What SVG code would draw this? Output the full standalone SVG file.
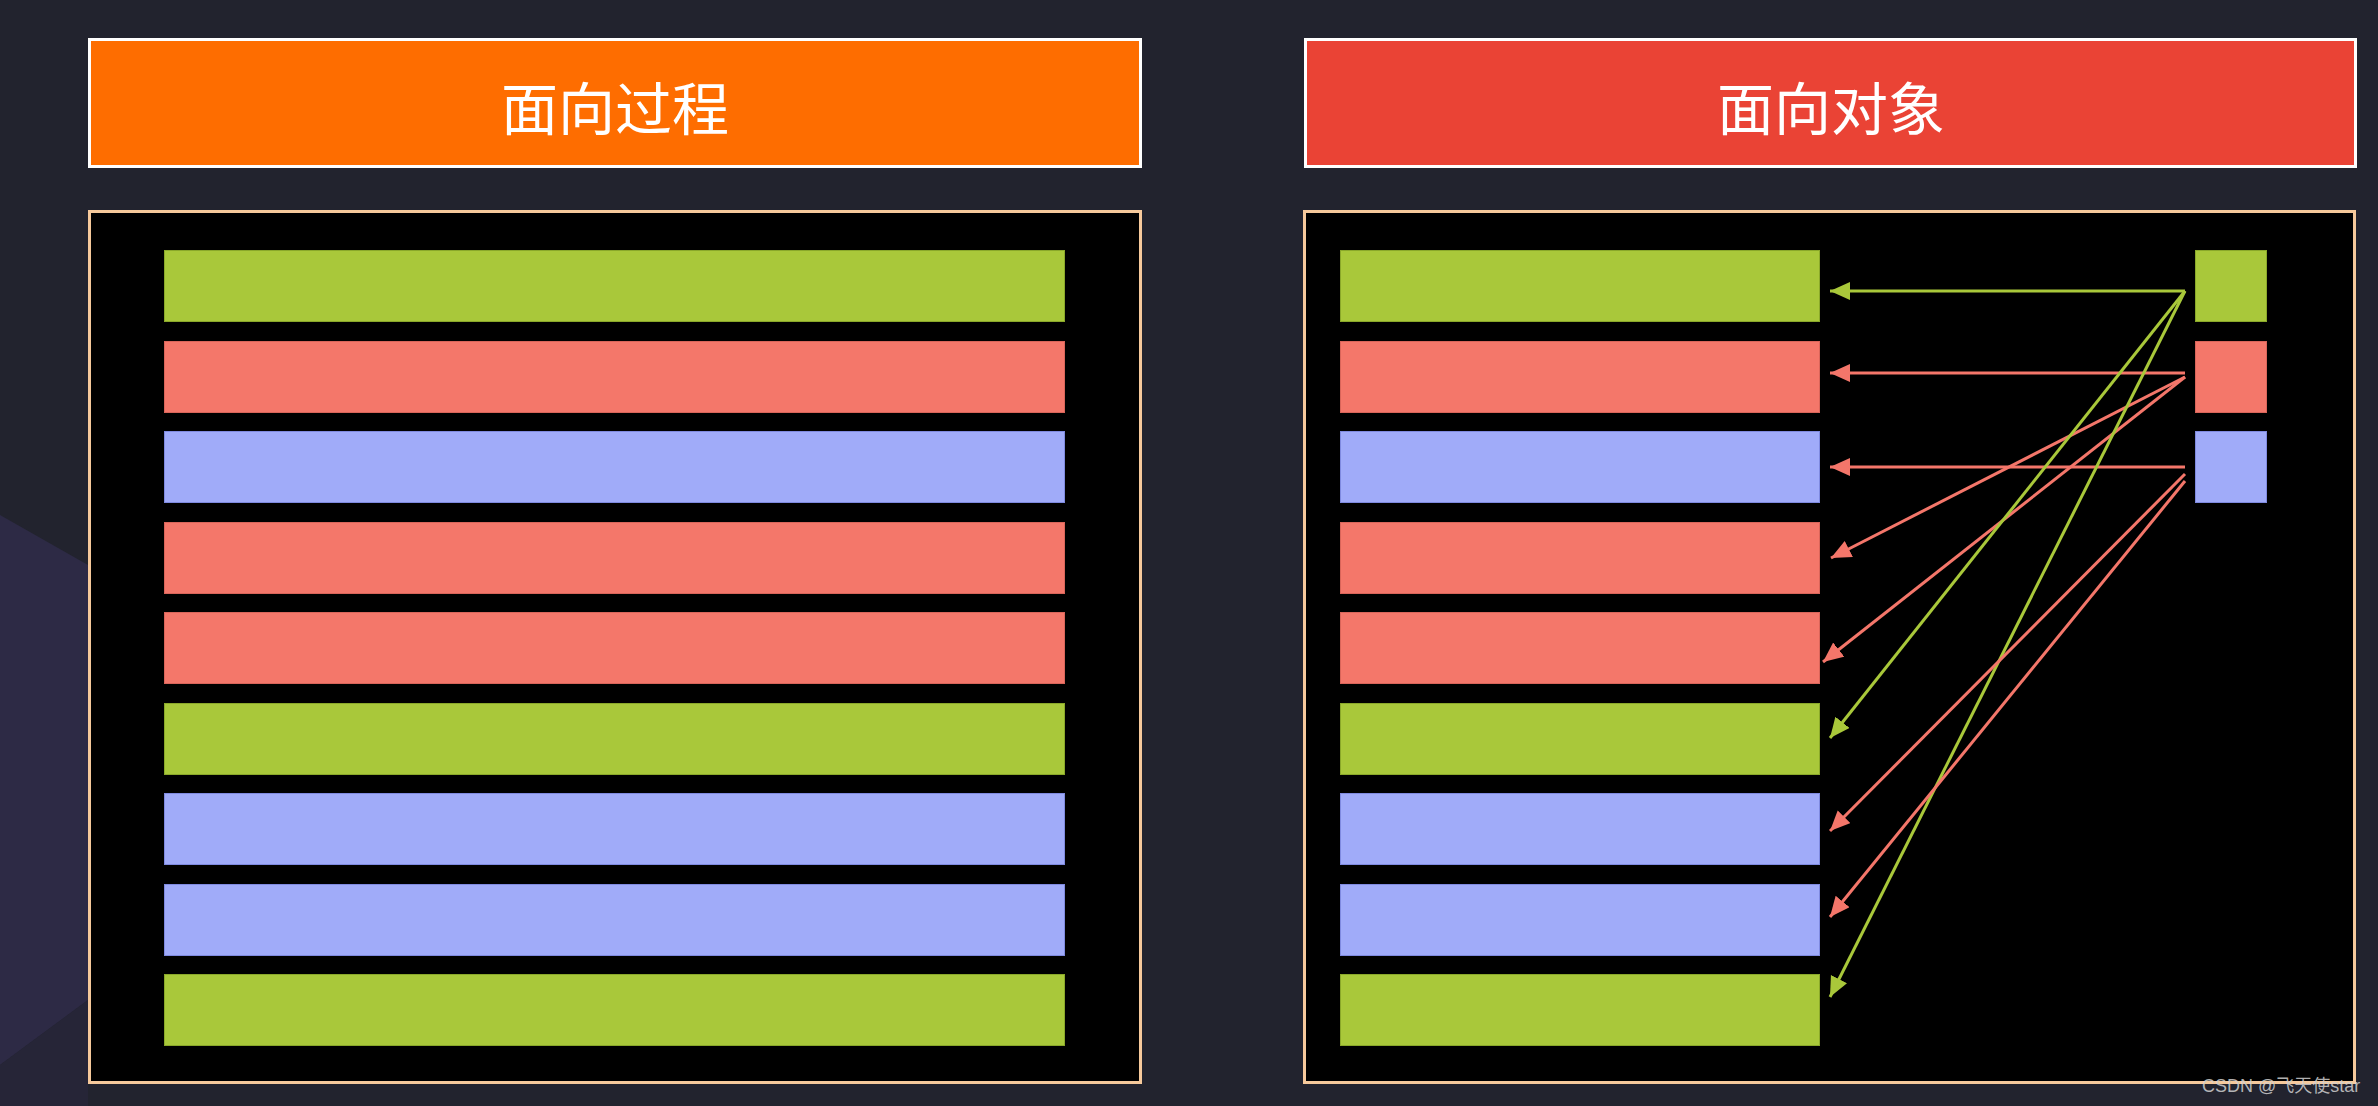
<svg xmlns="http://www.w3.org/2000/svg" width="2378" height="1106" viewBox="0 0 2378 1106">
<style>
.hdr{stroke:#ffffff;stroke-width:3}
.title{font-family:"Noto Sans CJK SC","Noto Sans",sans-serif;font-size:57px;fill:#ffffff;text-anchor:middle;dominant-baseline:central}
.panel{fill:#000000;stroke:#f6c99b;stroke-width:3}
.g{fill:#a9c83a;stroke:#8aa82a;stroke-width:1}
.r{fill:#f4776a;stroke:#d9655a;stroke-width:1}
.b{fill:#a0abf9;stroke:#7f8ae0;stroke-width:1}
.lg{stroke:#a9c83a;stroke-width:3;fill:none;marker-end:url(#ag)}
.lr{stroke:#f4766a;stroke-width:3;fill:none;marker-end:url(#ar)}
.wm{font-family:"Liberation Sans","Noto Sans CJK SC",sans-serif;font-size:18px;fill:#d0d0d0;fill-opacity:0.85}
</style>
<defs>
<marker id="ag" markerUnits="userSpaceOnUse" markerWidth="22" markerHeight="20" refX="20" refY="9" orient="auto">
<path d="M0,0 L20,9 L0,18 z" fill="#a9c83a"/>
</marker>
<marker id="ar" markerUnits="userSpaceOnUse" markerWidth="22" markerHeight="20" refX="20" refY="9" orient="auto">
<path d="M0,0 L20,9 L0,18 z" fill="#f4766a"/>
</marker>
</defs>
<rect width="2378" height="1106" fill="#22232e"/>
<polygon points="0,515 88,565 88,1000 0,1065" fill="#2d2a45"/>
<polygon points="0,1065 88,1000 88,1106 0,1106" fill="#262537"/>

<g id="header-left">
<rect class="hdr" x="89.5" y="39.5" width="1051" height="127" fill="#fe6d00"/>
<text class="title" x="615" y="105">面向过程</text>
</g>
<g id="header-right">
<rect class="hdr" x="1305.5" y="39.5" width="1050" height="127" fill="#ea4335"/>
<text class="title" x="1831" y="105">面向对象</text>
</g>

<g id="panel-left">
<rect class="panel" x="89.5" y="211.5" width="1051" height="871"/>
<rect class="g" x="164.5" y="250.5" width="900" height="71"/>
<rect class="r" x="164.5" y="341.5" width="900" height="71"/>
<rect class="b" x="164.5" y="431.5" width="900" height="71"/>
<rect class="r" x="164.5" y="522.5" width="900" height="71"/>
<rect class="r" x="164.5" y="612.5" width="900" height="71"/>
<rect class="g" x="164.5" y="703.5" width="900" height="71"/>
<rect class="b" x="164.5" y="793.5" width="900" height="71"/>
<rect class="b" x="164.5" y="884.5" width="900" height="71"/>
<rect class="g" x="164.5" y="974.5" width="900" height="71"/>
</g>

<g id="panel-right">
<rect class="panel" x="1304.5" y="211.5" width="1050" height="871"/>
</g>
<g id="proc-1"><rect class="g" x="1340.5" y="250.5" width="479" height="71"/></g>
<g id="proc-2"><rect class="r" x="1340.5" y="341.5" width="479" height="71"/></g>
<g id="proc-3"><rect class="b" x="1340.5" y="431.5" width="479" height="71"/></g>
<g id="proc-4"><rect class="r" x="1340.5" y="522.5" width="479" height="71"/></g>
<g id="proc-5"><rect class="r" x="1340.5" y="612.5" width="479" height="71"/></g>
<g id="proc-6"><rect class="g" x="1340.5" y="703.5" width="479" height="71"/></g>
<g id="proc-7"><rect class="b" x="1340.5" y="793.5" width="479" height="71"/></g>
<g id="proc-8"><rect class="b" x="1340.5" y="884.5" width="479" height="71"/></g>
<g id="proc-9"><rect class="g" x="1340.5" y="974.5" width="479" height="71"/></g>
<g id="obj-green"><rect class="g" x="2195.5" y="250.5" width="71" height="71"/></g>
<g id="obj-red"><rect class="r" x="2195.5" y="341.5" width="71" height="71"/></g>
<g id="obj-blue"><rect class="b" x="2195.5" y="431.5" width="71" height="71"/></g>

<g id="connectors">
<line class="lg" x1="2185" y1="291" x2="1830" y2="291"/>
<line class="lr" x1="2185" y1="373" x2="1830" y2="373"/>
<line class="lr" x1="2185" y1="467" x2="1830" y2="467"/>
<line class="lr" x1="2185" y1="377" x2="1831" y2="558"/>
<line class="lr" x1="2185" y1="377" x2="1823" y2="662"/>
<line class="lg" x1="2185" y1="291" x2="1830" y2="738"/>
<line class="lg" x1="2185" y1="291" x2="1830" y2="997"/>
<line class="lr" x1="2185" y1="474" x2="1830" y2="831"/>
<line class="lr" x1="2185" y1="481" x2="1830" y2="917"/>
</g>

<text class="wm" x="2202" y="1092">CSDN @飞天使star</text>
</svg>
